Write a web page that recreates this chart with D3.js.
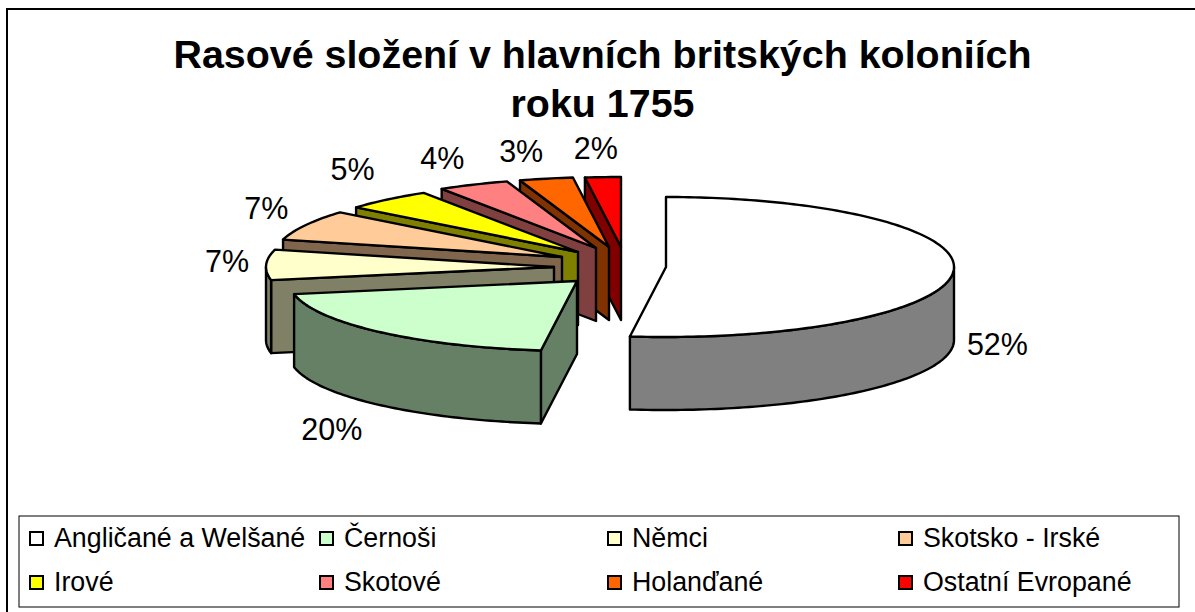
<html>
  <head>
    <meta charset="utf-8">
    <script src="https://cdn.jsdelivr.net/npm/d3@7"></script>
    <style>
      body { margin: 0; background: #fff; }
      text { font-family: "Liberation Sans", Arial, sans-serif; fill: #000; }
    </style>
  </head>
  <body>
    <script>
      const categories = ["Angličané a Welšané", "Černoši", "Němci", "Skotsko - Irské", "Irové", "Skotové", "Holanďané", "Ostatní Evropané"];
      const values = [52, 20, 7, 7, 5, 4, 3, 2];
      const colors = ["#ffffff", "#ccffcc", "#ffffcc", "#ffcc99", "#ffff00", "#ff8080", "#ff6600", "#ff0000"];
      const titleLines = ["Rasové složení v hlavních britských koloniích", "roku 1755"];

      // where each exploded slice ends up, the pie tip in px (explosion, not data)
      const explodeX = [666, 577, 554, 562, 578, 596, 609, 621];
      const explodeY = [267, 281, 267, 257, 252, 248, 247, 247];
      // dodge of the label from the slice's outer edge
      const labelDx = [44, -48, -39, -39, -35, -31, -25, -7];
      const labelDy = [84, 108, 7, -6, -19, -16, -17, -18];

      const width = 1195, height = 612;
      const rx = 288, ry = 70, depth = 73;

      const svg = d3.select("body").append("svg")
          .attr("width", width)
          .attr("height", height);

      // chart frame, its right and bottom side fall outside the picture
      svg.append("rect")
          .attr("x", 7).attr("y", 9)
          .attr("width", 1300).attr("height", 700)
          .attr("fill", "#fff").attr("stroke", "#000").attr("stroke-width", 2);

      svg.selectAll(".title")
        .data(titleLines)
        .join("text")
          .attr("class", "title")
          .attr("x", 602.5)
          .attr("y", (d, i) => 68 + i * 49)
          .attr("text-anchor", "middle")
          .attr("font-size", 39.4)
          .attr("font-weight", "bold")
          .text(d => d);

      const pie = d3.pie().sort(null)(values);

      // point on the tilted pie rim
      const rim = (a, cx, cy) => [cx + rx * Math.sin(a), cy - ry * Math.cos(a)];
      const down = p => [p[0], p[1] + depth];
      const polyline = d3.line();

      function arcPoints(a0, a1, cx, cy) {
        const n = Math.max(2, Math.ceil((a1 - a0) / 0.02));
        return d3.range(n + 1).map(i => rim(a0 + (a1 - a0) * i / n, cx, cy));
      }

      function wallColor(c) {
        const k = d3.rgb(c);
        return d3.rgb(k.r / 2, k.g / 2, k.b / 2).formatHex();
      }

      const chart = svg.append("g").attr("stroke", "#000").attr("stroke-width", 2.4).attr("stroke-linejoin", "round");

      // painter's order: the right half first, then the small slices from the back to the front
      const order = [0, 7, 6, 5, 4, 3, 2, 1];
      order.forEach(i => {
        const s = pie[i], cx = explodeX[i], cy = explodeY[i];
        const apex = [cx, cy];
        const dark = wallColor(colors[i]);
        const g = chart.append("g");

        // radial walls
        if (Math.sin(s.startAngle) < -1e-6) {
          const p = rim(s.startAngle, cx, cy);
          g.append("path").attr("fill", dark)
            .attr("d", polyline([apex, p, down(p), down(apex)]) + "Z");
        }
        if (Math.sin(s.endAngle) > 1e-6) {
          const p = rim(s.endAngle, cx, cy);
          g.append("path").attr("fill", dark)
            .attr("d", polyline([apex, p, down(p), down(apex)]) + "Z");
        }

        // outer wall, only the part of the rim that faces the front
        const a0 = Math.max(s.startAngle, Math.PI / 2);
        const a1 = Math.min(s.endAngle, 3 * Math.PI / 2);
        if (a1 > a0) {
          const top = arcPoints(a0, a1, cx, cy);
          const bottom = top.map(down).reverse();
          g.append("path").attr("fill", dark)
            .attr("d", polyline(top.concat(bottom)) + "Z");
        }

        // top
        g.append("path").attr("fill", colors[i])
          .attr("d", polyline([apex].concat(arcPoints(s.startAngle, s.endAngle, cx, cy))) + "Z");
      });

      // percent labels
      svg.selectAll(".pct")
        .data(pie)
        .join("text")
          .attr("class", "pct")
          .attr("font-size", 30.5)
          .attr("text-anchor", "middle")
          .attr("x", (d, i) => rim((d.startAngle + d.endAngle) / 2, explodeX[i], explodeY[i])[0] + labelDx[i])
          .attr("y", (d, i) => rim((d.startAngle + d.endAngle) / 2, explodeX[i], explodeY[i])[1] + labelDy[i])
          .text(d => d.value + "%");

      // legend
      svg.append("rect")
          .attr("x", 19).attr("y", 516)
          .attr("width", 1160).attr("height", 91)
          .attr("fill", "#fff").attr("stroke", "#000").attr("stroke-width", 1);

      const legendColX = [30, 320, 608, 899];
      const legendRowY = [538, 582];

      const item = svg.selectAll(".legend-item")
        .data(categories)
        .join("g")
          .attr("class", "legend-item")
          .attr("transform", (d, i) => `translate(${legendColX[i % 4]},${legendRowY[Math.floor(i / 4)]})`);

      item.append("rect")
          .attr("x", 0).attr("y", -6)
          .attr("width", 13).attr("height", 13)
          .attr("fill", (d, i) => colors[i])
          .attr("stroke", "#000").attr("stroke-width", 2);

      item.append("text")
          .attr("x", 24)
          .attr("y", 9)
          .attr("font-size", 26.8)
          .text(d => d);
    </script>
  </body>
</html>
